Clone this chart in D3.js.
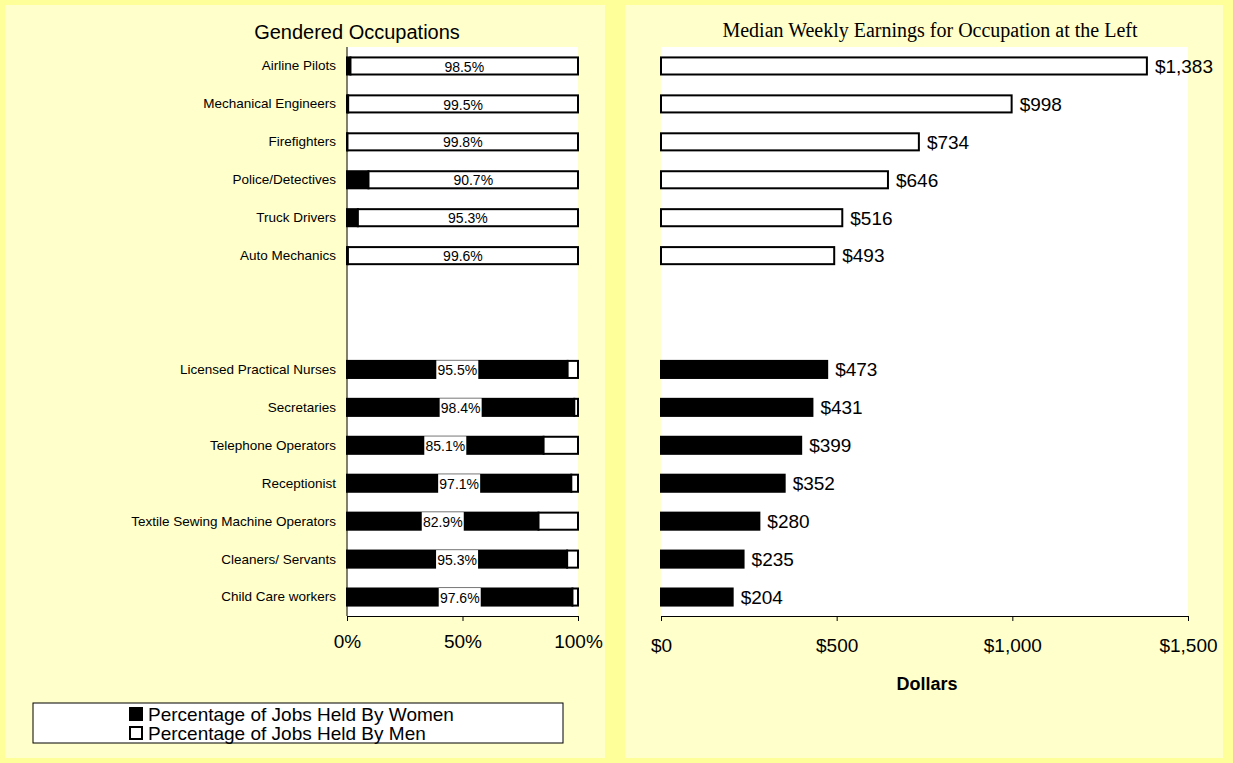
<!DOCTYPE html>
<html>
<head>
<meta charset="utf-8">
<script src="https://cdn.jsdelivr.net/npm/d3@7"></script>
<style>
  body { margin: 0; background: #ffff99; }
  svg { display: block; font-family: Arial, "Liberation Sans", sans-serif; }
</style>
</head>
<body>
<div id="chart"></div>
<script>
var width = 1233,
    height = 763;

// occupations, top to bottom; the blank entries are the empty gap rows
var occupations = ["Airline Pilots", "Mechanical Engineers", "Firefighters", "Police/Detectives",
    "Truck Drivers", "Auto Mechanics", "", " ",
    "Licensed Practical Nurses", "Secretaries", "Telephone Operators", "Receptionist",
    "Textile Sewing Machine Operators", "Cleaners/ Servants", "Child Care workers"];
var maleJobs = ["Airline Pilots", "Mechanical Engineers", "Firefighters", "Police/Detectives",
    "Truck Drivers", "Auto Mechanics"];
var femaleJobs = ["Licensed Practical Nurses", "Secretaries", "Telephone Operators", "Receptionist",
    "Textile Sewing Machine Operators", "Cleaners/ Servants", "Child Care workers"];
// percentage of jobs held by women
var womenPct = [1.5, 0.5, 0.2, 9.3, 4.7, 0.4, 95.5, 98.4, 85.1, 97.1, 82.9, 95.3, 97.6];
// label on each bar (men's share for male jobs, women's share for female jobs)
var labelPct = [98.5, 99.5, 99.8, 90.7, 95.3, 99.6, 95.5, 98.4, 85.1, 97.1, 82.9, 95.3, 97.6];
var earnings = [1383, 998, 734, 646, 516, 493, 473, 431, 399, 352, 280, 235, 204];
var pctTicks = [0, 50, 100];
var dollarTicks = [0, 500, 1000, 1500];

var jobs = maleJobs.concat(femaleJobs);
var rows = jobs.map(function(name, i) {
    return { name: name, women: womenPct[i], men: 100 - womenPct[i], label: labelPct[i],
             earn: earnings[i], male: i < maleJobs.length };
});

var svg = d3.select("#chart").append("svg")
    .attr("width", width)
    .attr("height", height);

svg.append("rect").attr("width", width).attr("height", height).attr("fill", "#ffff99");
// panels
svg.append("rect").attr("x", 5).attr("y", 5).attr("width", 600).attr("height", 753).attr("fill", "#ffffcc");
svg.append("rect").attr("x", 625).attr("y", 5).attr("width", 598).attr("height", 753).attr("fill", "#ffffcc");

var plotTop = 47, plotBottom = 616;
var y = d3.scaleBand().domain(occupations).range([plotTop, plotBottom]).paddingInner(0.55).paddingOuter(0.275);

// ---------- left: gendered occupations ----------
var x1 = d3.scaleLinear().domain([0, 100]).range([347, 578]);

svg.append("text")
    .attr("x", 357).attr("y", 39)
    .attr("text-anchor", "middle")
    .attr("font-size", 20)
    .text("Gendered Occupations");

svg.append("rect")
    .attr("x", x1(0)).attr("y", plotTop)
    .attr("width", x1(100) - x1(0)).attr("height", plotBottom - plotTop)
    .attr("fill", "#fff");

var gLeft = svg.append("g");

gLeft.selectAll(".women")
    .data(rows).enter().append("rect")
    .attr("x", x1(0))
    .attr("y", function(d) { return y(d.name); })
    .attr("width", function(d) { return x1(d.women) - x1(0); })
    .attr("height", y.bandwidth())
    .attr("fill", "#000")
    .attr("stroke", "#000")
    .attr("stroke-width", 2);

gLeft.selectAll(".men")
    .data(rows).enter().append("rect")
    .attr("x", function(d) { return x1(d.women); })
    .attr("y", function(d) { return y(d.name); })
    .attr("width", function(d) { return x1(100) - x1(d.women); })
    .attr("height", y.bandwidth())
    .attr("fill", "#fff")
    .attr("stroke", "#000")
    .attr("stroke-width", 2);

var labels = gLeft.selectAll(".lbl")
    .data(rows).enter().append("g")
    .attr("transform", function(d) {
        var cx = d.male ? (x1(d.women) + x1(100)) / 2 : (x1(0) + x1(d.women)) / 2;
        return "translate(" + cx + "," + (y(d.name) + y.bandwidth() / 2) + ")";
    });
labels.filter(function(d) { return !d.male; }).append("rect")
    .attr("x", -21).attr("y", -9)
    .attr("width", 42).attr("height", 20)
    .attr("fill", "#fff");
labels.append("text")
    .attr("text-anchor", "middle")
    .attr("dy", "0.4em")
    .attr("font-size", 14)
    .text(function(d) { return d.label.toFixed(1) + "%"; });

// category names
gLeft.selectAll(".cat")
    .data(jobs).enter().append("text")
    .attr("x", 336)
    .attr("y", function(d) { return y(d) + y.bandwidth() / 2; })
    .attr("dy", "0.33em")
    .attr("text-anchor", "end")
    .attr("font-size", 13.5)
    .text(function(d) { return d; });

gLeft.append("line")
    .attr("x1", x1(0)).attr("x2", x1(0))
    .attr("y1", plotTop).attr("y2", plotBottom)
    .attr("stroke", "#000");

var ax1 = gLeft.append("g")
    .attr("transform", "translate(0," + plotBottom + ")")
    .call(d3.axisBottom(x1).tickValues(pctTicks).tickSize(5).tickPadding(14)
        .tickFormat(function(d) { return d + "%"; }));
ax1.select(".domain").attr("stroke", "#000");
ax1.selectAll("text").attr("font-size", 19).attr("font-family", "Arial, sans-serif").attr("fill", "#000");

// legend
var legend = svg.append("g").attr("transform", "translate(33,703)");
legend.append("rect").attr("width", 530).attr("height", 40).attr("fill", "#fff").attr("stroke", "#000");
var legendItems = [{ label: "Percentage of Jobs Held By Women", fill: "#000" },
                   { label: "Percentage of Jobs Held By Men", fill: "#fff" }];
legendItems.forEach(function(item, i) {
    legend.append("rect")
        .attr("x", 97).attr("y", 5 + i * 19)
        .attr("width", 12).attr("height", 12)
        .attr("fill", item.fill).attr("stroke", "#000").attr("stroke-width", 2);
    legend.append("text")
        .attr("x", 115).attr("y", 17.5 + i * 19)
        .attr("font-size", 19)
        .text(item.label);
});

// ---------- right: median weekly earnings ----------
var x2 = d3.scaleLinear().domain([0, 1500]).range([661, 1188]);

svg.append("text")
    .attr("x", 930).attr("y", 37)
    .attr("text-anchor", "middle")
    .attr("font-family", "'Liberation Serif', 'Times New Roman', serif")
    .attr("font-size", 20)
    .text("Median Weekly Earnings for Occupation at the Left");

svg.append("rect")
    .attr("x", x2(0)).attr("y", plotTop)
    .attr("width", x2(1500) - x2(0)).attr("height", plotBottom - plotTop)
    .attr("fill", "#fff");

var gRight = svg.append("g");

gRight.selectAll(".earn")
    .data(rows).enter().append("rect")
    .attr("x", x2(0))
    .attr("y", function(d) { return y(d.name); })
    .attr("width", function(d) { return x2(d.earn) - x2(0); })
    .attr("height", y.bandwidth())
    .attr("fill", function(d) { return d.male ? "#fff" : "#000"; })
    .attr("stroke", "#000")
    .attr("stroke-width", 2);

gRight.selectAll(".val")
    .data(rows).enter().append("text")
    .attr("x", function(d) { return x2(d.earn) + 8; })
    .attr("y", function(d) { return y(d.name) + y.bandwidth() / 2; })
    .attr("dy", "0.36em")
    .attr("font-size", 19)
    .text(function(d) { return d3.format("$,")(d.earn); });

var ax2 = gRight.append("g")
    .attr("transform", "translate(0," + plotBottom + ")")
    .call(d3.axisBottom(x2).tickValues(dollarTicks).tickSize(5).tickPadding(18)
        .tickFormat(d3.format("$,")));
ax2.select(".domain").attr("stroke", "#000");
ax2.selectAll("text").attr("font-size", 19).attr("font-family", "Arial, sans-serif").attr("fill", "#000");

svg.append("text")
    .attr("x", 927).attr("y", 690)
    .attr("text-anchor", "middle")
    .attr("font-size", 18)
    .attr("font-weight", "bold")
    .text("Dollars");
</script>
</body>
</html>
